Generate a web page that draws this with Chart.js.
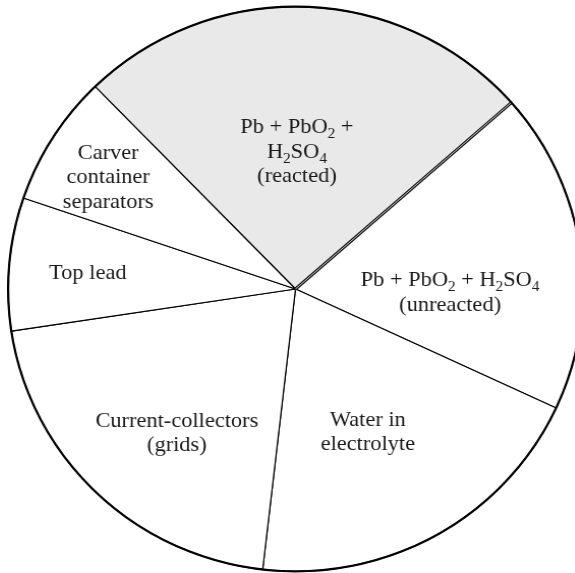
<!DOCTYPE html>
<html>
<head>
<meta charset="utf-8">
<script src="https://cdn.jsdelivr.net/npm/chart.js@4/dist/chart.umd.min.js"></script>
<style>
  html, body { margin: 0; padding: 0; background: #fff; overflow: hidden; width: 575px; height: 573px; }
  #wrap { position: absolute; left: 0; top: 0; width: 591px; height: 573px; transform: scaleX(1.0177); transform-origin: 295.5px 0; }
  canvas { display: block; }
</style>
</head>
<body>
<div id="wrap"><canvas id="c" width="591" height="573"></canvas></div>
<script>
// ---- data (percent of battery mass) ----
const categories = [
  "Pb + PbO₂ + H₂SO₄ (reacted)",
  "Pb + PbO₂ + H₂SO₄ (unreacted)",
  "Water in electrolyte",
  "Current-collectors (grids)",
  "Top lead",
  "Carver container separators"
];
const shares = [25.8, 18.4, 19.9, 20.8, 7.6, 7.5];
const labelLines = [
  ["Pb + PbO₂ +", "H₂SO₄", "(reacted)"],
  ["Pb + PbO₂ + H₂SO₄", "(unreacted)"],
  ["Water in", "electrolyte"],
  ["Current-collectors", "(grids)"],
  ["Top lead"],
  ["Carver", "container", "separators"]
];

// ---- styling / layout ----
const fills = ["#e9e9e9", "#ffffff", "#ffffff", "#ffffff", "#ffffff", "#ffffff"];
// label anchor: angle (deg, clockwise from top) and fraction of radius
const labelPlace = [
  { a: 0.6, f: 0.485 },
  { a: 91.4, f: 0.538 },
  { a: 153.6, f: 0.566 },
  { a: 219.0, f: 0.656 },
  { a: 274.5, f: 0.725 },
  { a: 301.2, f: 0.762 }
];
const FONT_FAMILY = "'Liberation Serif', 'DejaVu Serif', serif";
const FONT_SIZE = 22;
const LINE_H = 24.5;
const SUBS = { "₀":"0","₁":"1","₂":"2","₃":"3","₄":"4","₅":"5","₆":"6","₇":"7","₈":"8","₉":"9" };

function segments(str) {
  const segs = [];
  for (const ch of str) {
    const sub = SUBS[ch] !== undefined;
    const t = sub ? SUBS[ch] : ch;
    if (segs.length && segs[segs.length - 1].sub === sub) segs[segs.length - 1].t += t;
    else segs.push({ t, sub });
  }
  return segs;
}

const labelPlugin = {
  id: 'pieLabels',
  afterDatasetsDraw(chart) {
    const ctx = chart.ctx;
    const meta = chart.getDatasetMeta(0);
    const a0 = meta.data[0];
    const cx = a0.x, cy = a0.y, R = a0.outerRadius;

    // double edge between reacted and unreacted
    const e = a0.endAngle;
    ctx.save();
    ctx.beginPath();
    ctx.moveTo(cx, cy);
    ctx.lineTo(cx + R * Math.cos(e), cy + R * Math.sin(e));
    ctx.strokeStyle = '#111';
    ctx.lineWidth = 3;
    ctx.stroke();
    ctx.beginPath();
    ctx.moveTo(cx, cy);
    ctx.lineTo(cx + R * Math.cos(e), cy + R * Math.sin(e));
    ctx.strokeStyle = '#cfcfcf';
    ctx.lineWidth = 1;
    ctx.stroke();

    // outer rim
    ctx.beginPath();
    ctx.arc(cx, cy, R, 0, Math.PI * 2);
    ctx.strokeStyle = '#000';
    ctx.lineWidth = 2.2;
    ctx.stroke();

    // labels
    ctx.fillStyle = '#1a1a1a';
    ctx.textBaseline = 'middle';
    ctx.textAlign = 'left';
    const mainFont = FONT_SIZE + 'px ' + FONT_FAMILY;
    const subFont = Math.round(FONT_SIZE * 0.66) + 'px ' + FONT_FAMILY;
    labelLines.forEach((lines, i) => {
      const p = labelPlace[i];
      const ang = (p.a - 90) * Math.PI / 180;
      const lx = cx + p.f * R * Math.cos(ang);
      const ly = cy + p.f * R * Math.sin(ang);
      const top = ly - (lines.length - 1) * LINE_H / 2;
      lines.forEach((line, j) => {
        const segs = segments(line);
        let w = 0;
        segs.forEach(s => { ctx.font = s.sub ? subFont : mainFont; s.w = ctx.measureText(s.t).width; w += s.w; });
        let x = lx - w / 2;
        const y = top + j * LINE_H;
        segs.forEach(s => {
          ctx.font = s.sub ? subFont : mainFont;
          ctx.fillText(s.t, x, s.sub ? y + FONT_SIZE * 0.3 : y);
          x += s.w;
        });
      });
    });
    ctx.restore();
  }
};

new Chart(document.getElementById('c'), {
  type: 'pie',
  data: {
    labels: categories,
    datasets: [{
      data: shares,
      backgroundColor: fills,
      borderColor: '#000',
      borderWidth: 1.2,
      borderAlign: 'center'
    }]
  },
  options: {
    responsive: false,
    animation: false,
    rotation: -44.2,
    layout: { padding: { top: 6, bottom: 1, left: 0, right: 0 } },
    plugins: {
      legend: { display: false },
      tooltip: { enabled: false }
    }
  },
  plugins: [labelPlugin]
});
</script>
</body>
</html>
